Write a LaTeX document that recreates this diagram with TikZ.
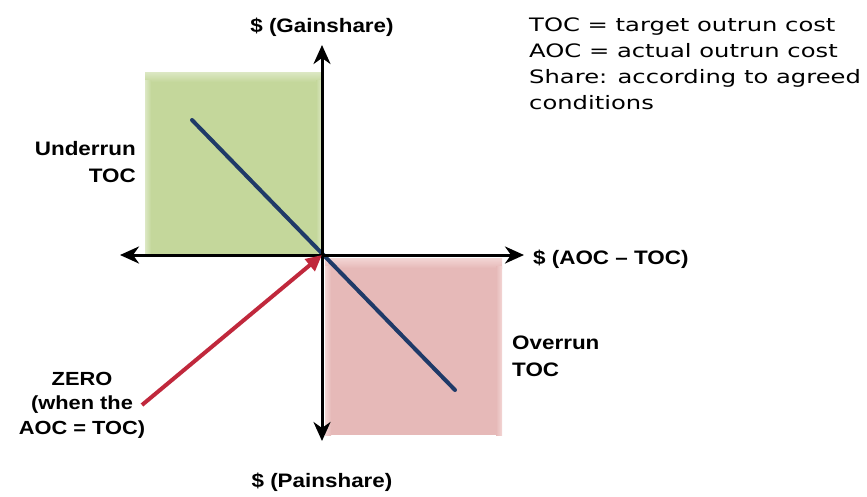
\documentclass[tikz,border=0pt]{standalone}
\usepackage{fontspec}
\setmainfont[FakeStretch=1.15]{Liberation Sans}
\newfontfamily\notefont[FakeStretch=1.31]{DejaVu Sans}
\usetikzlibrary{arrows.meta}
\definecolor{gfill}{HTML}{C4D79B}
\definecolor{gedge}{HTML}{DCE8C4}
\definecolor{pfill}{HTML}{E6B9B8}
\definecolor{pedge}{HTML}{F3D6D5}
\definecolor{navy}{HTML}{1F3A68}
\definecolor{redarr}{HTML}{C0283C}
\tikzset{
  axis/.style={line width=3pt, {Stealth[length=19pt,width=17pt,inset=6pt]}-{Stealth[length=19pt,width=17pt,inset=6pt]}},
  lbl/.style={font=\fontsize{19.5}{27}\selectfont\bfseries, inner sep=0pt},
  note/.style={font=\notefont\fontsize{18.5}{26}\selectfont, inner sep=0pt, anchor=base west},
}
\begin{document}
\begin{tikzpicture}[x=1pt,y=-1pt]
\useasboundingbox (0,0) rectangle (867,496);
% squares with soft bevel
\fill[gfill] (145,72) rectangle (322,255);
\shade[top color=gedge, bottom color=gfill] (145,72) rectangle (322,82);
\shade[left color=gedge, right color=gfill] (145,80) rectangle (151,255);
\shade[left color=gfill, right color=gedge] (316,80) rectangle (322,255);
\fill[pfill] (325,258) rectangle (502,435);
\shade[top color=pedge, bottom color=pfill] (325,258) rectangle (502,268);
\shade[left color=pedge, right color=pfill] (325,266) rectangle (331,435);
\shade[left color=pfill, right color=pedge] (496,266) rectangle (502,435);
\coordinate (O) at (322,255);
\coordinate (top) at (322,45);
\coordinate (bot) at (322,441);
\coordinate (lft) at (120,255);
\coordinate (rgt) at (524,255);
\coordinate (b1) at (192,120);
\coordinate (b2) at (455,390);
\coordinate (r1) at (142,405);
% blue line
\draw[navy, line width=4pt, line cap=round] (b1) -- (b2);
% axes
\draw[axis] (bot) -- (top);
\draw[axis] (lft) -- (rgt);
% red arrow
\draw[redarr, line width=4pt, -{Triangle[length=16pt,width=15pt]}] (r1) -- (O);
% labels
\node[lbl, anchor=center] (gain) at (322,27) {\$ (Gainshare)};
\node[lbl, anchor=center] (pain) at (322,482) {\$ (Painshare)};
\node[lbl, anchor=west] (x) at (533,259) {\$ (AOC -- TOC)};
\node[lbl, anchor=east, align=right] (under) at (136,162) {Underrun\\TOC};
\node[lbl, anchor=west, align=left] (over) at (512,356) {Overrun\\TOC};
\node[lbl, anchor=center, align=center, font=\fontsize{19}{24.5}\selectfont\bfseries] (zero) at (82,405) {ZERO\\(when the\\AOC = TOC)};
\node[note] (n1) at (529,31) {TOC = target outrun cost};
\node[note] (n2) at (529,57) {AOC = actual outrun cost};
\node[note] (n3) at (529,83) {Share: according to agreed};
\node[note] (n4) at (529,109) {conditions};
\end{tikzpicture}
\end{document}
